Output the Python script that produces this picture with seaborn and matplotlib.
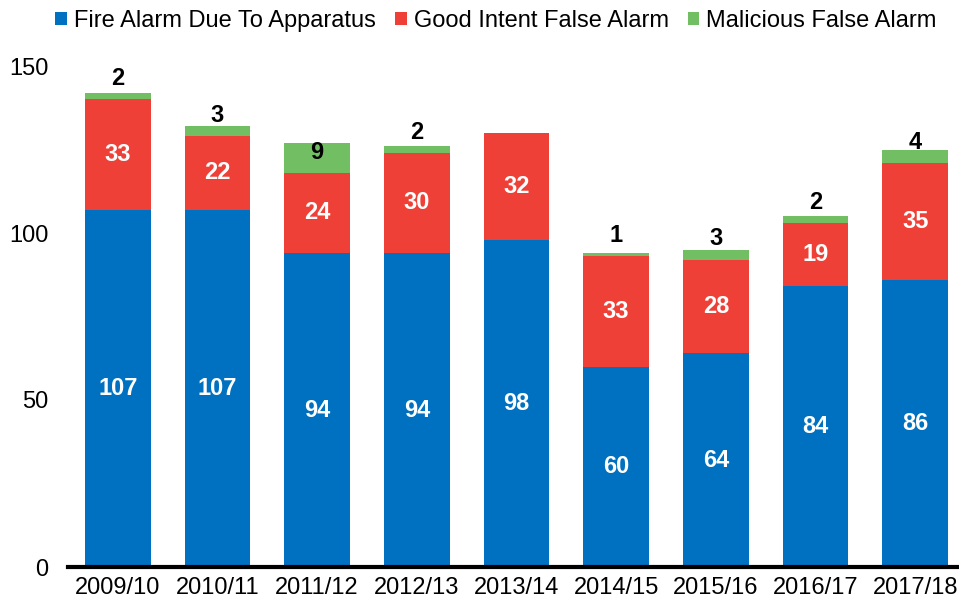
import pandas as pd
import numpy as np
import seaborn as sns
import matplotlib.pyplot as plt
from matplotlib.patches import Patch

# data
nam = ['2009/10', '2010/11', '2011/12', '2012/13', '2013/14',
       '2014/15', '2015/16', '2016/17', '2017/18']
bao_dong_thiet_bi = [107, 107, 94, 94, 98, 60, 64, 84, 86]
bao_dong_thien_chi = [33, 22, 24, 30, 32, 33, 28, 19, 35]
bao_dong_ac_y = [2, 3, 9, 2, 0, 1, 3, 2, 4]

ten_chuoi = ['Fire Alarm Due To Apparatus', 'Good Intent False Alarm', 'Malicious False Alarm']
mau = ['#0070C0', '#EE4036', '#72BF63']

df = pd.DataFrame({
    'Năm': nam,
    'Thiết bị': bao_dong_thiet_bi,
    'Thiện chí': bao_dong_thien_chi,
    'Ác ý': bao_dong_ac_y,
})
df['Tầng 2'] = df['Thiết bị'] + df['Thiện chí']
df['Tổng'] = df['Tầng 2'] + df['Ác ý']

sns.set_style('white')
plt.rcParams['font.family'] = ['Liberation Sans', 'DejaVu Sans']
co_chu = 17

fig = plt.figure(figsize=(9.59, 6.06), dpi=100)
ax = fig.add_axes([68 / 959, 39 / 606, 897 / 959, 501 / 606])

# stacked bars: draw cumulative totals from tallest to shortest
for cot, m in zip(['Tổng', 'Tầng 2', 'Thiết bị'], mau[::-1]):
    sns.barplot(data=df, x='Năm', y=cot, color=m, saturation=1, width=0.66,
                linewidth=0, ax=ax)

ax.set_ylim(0, 150)
ax.set_xlim(-0.5, len(nam) - 0.5)
ax.set_yticks([0, 50, 100, 150])
ax.set_xlabel('')
ax.set_ylabel('')
ax.tick_params(axis='y', length=0, pad=14, labelsize=co_chu, labelcolor='black')
ax.tick_params(axis='x', length=0, pad=7, labelsize=co_chu, labelcolor='black')
for s in ['top', 'right', 'left']:
    ax.spines[s].set_visible(False)
ax.spines['bottom'].set_color('black')
ax.spines['bottom'].set_linewidth(3)

for i in range(len(nam)):
    b = df['Thiết bị'][i]
    r = df['Thiện chí'][i]
    g = df['Ác ý'][i]
    ax.text(i, b / 2, str(b), ha='center', va='center', color='white',
            fontsize=co_chu, fontweight='bold')
    ax.text(i, b + r / 2, str(r), ha='center', va='center', color='white',
            fontsize=co_chu, fontweight='bold')
    if g > 0:
        ax.annotate(str(g), xy=(i, b + r), xytext=(0, 15), textcoords='offset points',
                    ha='center', va='center', color='black',
                    fontsize=co_chu, fontweight='bold', annotation_clip=False)

tay_cam = [Patch(facecolor=m, edgecolor='none') for m in mau]
fig.legend(tay_cam, ten_chuoi, loc='center', bbox_to_anchor=(496 / 959, 1 - 21 / 606),
           ncol=3, frameon=False, fontsize=co_chu, handlelength=0.5, handleheight=0.5,
           handletextpad=0.3, columnspacing=0.8, borderpad=0, labelcolor='black')

fig.savefig('out.png', dpi=100)
